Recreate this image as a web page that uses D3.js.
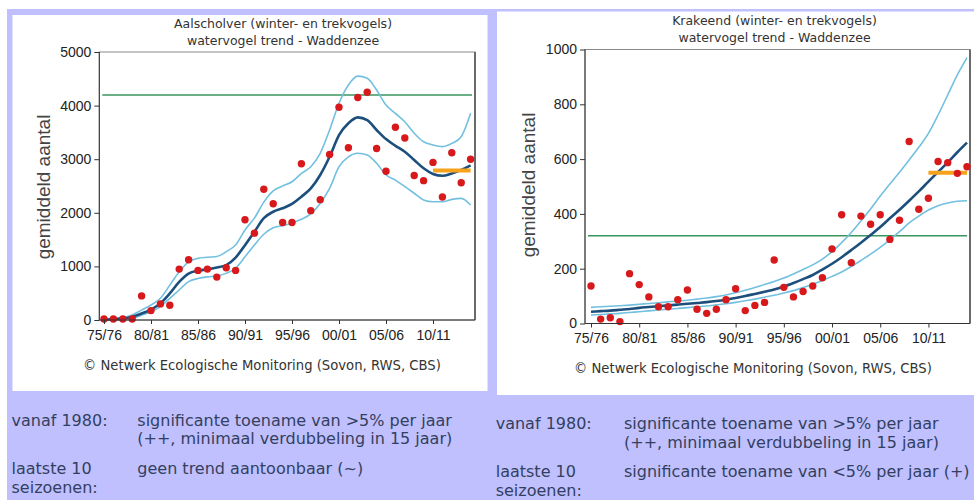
<!DOCTYPE html>
<html><head><meta charset="utf-8">
<script src="https://cdn.jsdelivr.net/npm/d3@7/dist/d3.min.js"></script>
<style>
html,body{margin:0;padding:0;background:#fff;}
svg{display:block;}
</style></head><body>
<svg id="c" width="974" height="500"></svg>
<script>
// ---------- DATA ----------
const seasons = ["75/76","76/77","77/78","78/79","79/80","80/81","81/82","82/83","83/84","84/85",
  "85/86","86/87","87/88","88/89","89/90","90/91","91/92","92/93","93/94","94/95",
  "95/96","96/97","97/98","98/99","99/00","00/01","01/02","02/03","03/04","04/05",
  "05/06","06/07","07/08","08/09","09/10","10/11","11/12","12/13","13/14","14/15"];
const xTickLabels = ["75/76","80/81","85/86","90/91","95/96","00/01","05/06","10/11"];
const lastSeasons = ["10/11","11/12","12/13","13/14","14/15"];

// Aalscholver
const aalTitle = ["Aalscholver (winter- en trekvogels)", "watervogel trend - Waddenzee"];
const aalYTicks = [0, 1000, 2000, 3000, 4000, 5000];
const aalCounts = [20,20,20,20,450,175,300,275,950,1125,925,950,800,975,925,1870,1620,2440,2170,1820,
  1820,2915,2040,2245,3090,3970,3215,4150,4250,3200,2775,3595,3395,2695,2600,2940,2295,3120,2560,3000];
const aalTrend = [10,15,25,60,120,195,310,495,710,865,920,945,980,1025,1165,1395,1645,1900,2020,2085,
  2165,2300,2455,2705,3045,3450,3670,3780,3730,3545,3375,3250,3140,2985,2830,2725,2690,2735,2800,2885];
const aalUpper = [20,30,45,95,185,280,405,650,900,1085,1150,1170,1185,1275,1400,1680,1900,2200,2410,2500,
  2580,2735,2860,3110,3545,4045,4385,4550,4510,4290,4010,3855,3700,3485,3325,3265,3235,3295,3420,3855];
const aalLower = [0,5,10,30,90,155,250,405,560,715,775,805,820,870,965,1180,1400,1600,1720,1760,
  1810,1880,1980,2175,2455,2860,3045,3110,3080,2925,2705,2610,2490,2365,2240,2205,2205,2250,2270,2145];
const aalReference = 4200;
const aalLastAvg = [2790,2790,2790,2790,2790];
const aalText = [["vanaf 1980:", "significante toename van >5% per jaar", "(++, minimaal verdubbeling in 15 jaar)"],
                 ["laatste 10", "geen trend aantoonbaar (~)"], ["seizoenen:"]];

// Krakeend
const kraTitle = ["Krakeend (winter- en trekvogels)", "watervogel trend - Waddenzee"];
const kraYTicks = [0, 200, 400, 600, 800, 1000];
const kraCounts = [137,16,21,7,182,142,97,61,61,87,122,52,37,52,87,127,47,66,77,232,
  132,97,117,137,167,272,397,222,392,362,397,307,377,664,417,457,591,587,548,572];
const kraTrend = [43,45,47,50,53,57,60,63,66,69,72,75,78,82,87,93,100,108,116,124,
  135,148,162,177,197,218,242,268,295,323,352,384,415,448,482,518,553,588,625,660];
const kraUpper = [59,61,63,65,67,70,73,76,79,82,85,89,93,98,104,112,121,131,142,153,
  166,181,197,214,235,262,295,332,374,418,465,509,552,597,643,694,761,834,907,970];
const kraLower = [31,33,35,37,40,43,46,49,52,55,58,61,64,68,72,77,83,89,96,103,
  111,120,131,143,157,172,188,208,230,253,278,305,335,367,392,414,430,440,446,448];
const kraReference = 320;
const kraLastAvg = [550,550,550,550,550];
const kraText = [["vanaf 1980:", "significante toename van >5% per jaar", "(++, minimaal verdubbeling in 15 jaar)"],
                 ["laatste 10", "significante toename van <5% per jaar (+)"], ["seizoenen:"]];

const copyright = "\u00A9 Netwerk Ecologische Monitoring (Sovon, RWS, CBS)";
const yTitle = "gemiddeld aantal";

// ---------- LAYOUT / STYLE ----------
const C = {
  lav: "#c0c0ff", dot: "#d7191c", trend: "#1c4f7c", band: "#72c0e0",
  ref: "#3a955e", avg: "#f7a21b", txt: "#333", bottomTxt: "#333f5e"
};
const svg = d3.select("#c");
svg.append("rect").attr("x", 7).attr("y", 9).attr("width", 967).attr("height", 491).attr("fill", C.lav);

function drawChart(cfg, d) {
  svg.append("rect").attr("x", cfg.panel[0]).attr("y", cfg.panel[1])
    .attr("width", cfg.panel[2]).attr("height", cfg.panel[3]).attr("fill", "#fff");

  const x = d3.scalePoint().domain(seasons).range([cfg.xFirst, cfg.xLast]);
  const y = d3.scaleLinear().domain([0, d.yTicks[d.yTicks.length - 1]]).range([cfg.y1, cfg.y0]);

  const g = svg.append("g");
  // frame
  g.append("rect").attr("x", cfg.x0).attr("y", cfg.y0).attr("width", cfg.x1 - cfg.x0)
    .attr("height", cfg.y1 - cfg.y0).attr("fill", "none").attr("stroke", "#8a8a8a").attr("stroke-width", 1);
  g.append("line").attr("x1", cfg.x1).attr("x2", cfg.x1).attr("y1", cfg.y0).attr("y2", cfg.y1)
    .attr("stroke", "#6a6a6a").attr("stroke-width", 2);

  // titles
  d.title.forEach((t, i) => {
    g.append("text").attr("x", cfg.titleX).attr("y", cfg.titleY[i]).attr("text-anchor", "middle")
      .attr("font-family", "DejaVu Sans").attr("font-size", 12.5).attr("fill", C.txt).text(t);
  });

  // reference line
  g.append("line").attr("x1", cfg.x0 + 3).attr("x2", cfg.x1 - 3)
    .attr("y1", y(d.reference)).attr("y2", y(d.reference))
    .attr("stroke", C.ref).attr("stroke-width", 1.5);

  const line = d3.line().x((v, i) => x(seasons[i])).y(v => y(v)).curve(d3.curveMonotoneX);
  [d.upper, d.lower].forEach(arr => {
    g.append("path").attr("d", line(arr)).attr("fill", "none").attr("stroke", C.band).attr("stroke-width", 1.6);
  });
  g.append("path").attr("d", line(d.trend)).attr("fill", "none").attr("stroke", C.trend).attr("stroke-width", 2.6);

  // last seasons average
  const avgLine = d3.line().x((v, i) => x(lastSeasons[i])).y(v => y(v));
  g.append("path").attr("d", avgLine(d.lastAvg)).attr("fill", "none").attr("stroke", C.avg).attr("stroke-width", 4);

  // dots
  g.selectAll(null).data(d.counts).join("circle")
    .attr("cx", (v, i) => x(seasons[i])).attr("cy", v => y(v)).attr("r", 3.7).attr("fill", C.dot);

  // axes
  const ya = g.append("g").attr("transform", `translate(${cfg.x0},0)`)
    .call(d3.axisLeft(y).tickValues(d.yTicks).tickFormat(d3.format("d")).tickSize(5).tickPadding(3).tickSizeOuter(0));
  const xa = g.append("g").attr("transform", `translate(0,${cfg.y1})`)
    .call(d3.axisBottom(x).tickValues(xTickLabels).tickSize(4).tickPadding(cfg.xPad).tickSizeOuter(0));
  xa.select(".domain").attr("d", `M${cfg.x0},0H${cfg.x1}`);
  ya.select(".domain").attr("d", `M0,${cfg.y0}V${cfg.y1}`);
  [ya, xa].forEach(a => {
    a.selectAll("text").attr("font-family", "Liberation Sans, Arial").attr("font-size", 14).attr("fill", "#222");
    a.selectAll("line,.domain").attr("stroke", "#333");
    a.attr("font-size", null).attr("font-family", null);
  });

  // y title
  g.append("text").attr("transform", `translate(${cfg.yTitle[0]},${cfg.yTitle[1]}) rotate(-90)`)
    .attr("text-anchor", "middle").attr("font-family", "Liberation Sans, Arial").attr("font-size", 19)
    .attr("fill", "#444").text(yTitle);

  // copyright
  g.append("text").attr("x", cfg.copyX).attr("y", cfg.copyY).attr("text-anchor", "middle")
    .attr("font-family", "DejaVu Sans").attr("font-size", 13.2).attr("fill", C.txt).text(copyright);

  // bottom texts
  const bt = svg.append("g").attr("font-family", "DejaVu Sans").attr("font-size", 16).attr("fill", C.bottomTxt);
  bt.append("text").attr("x", cfg.textX[0]).attr("y", cfg.textY[0]).text(d.text[0][0]);
  bt.append("text").attr("x", cfg.textX[1]).attr("y", cfg.textY[0]).text(d.text[0][1]);
  bt.append("text").attr("x", cfg.textX[1]).attr("y", cfg.textY[1]).text(d.text[0][2]);
  bt.append("text").attr("x", cfg.textX[0]).attr("y", cfg.textY[2]).text(d.text[1][0]);
  bt.append("text").attr("x", cfg.textX[1]).attr("y", cfg.textY[2]).text(d.text[1][1]);
  bt.append("text").attr("x", cfg.textX[0]).attr("y", cfg.textY[3]).text(d.text[2][0]);
}

drawChart({
  panel: [12.5, 15, 475, 376], x0: 99.3, x1: 475, y0: 52, y1: 320, xFirst: 104, xLast: 470.6,
  titleX: 283, titleY: [28, 45], copyX: 262, copyY: 370, yTitle: [50, 187], xPad: 6,
  textX: [11.5, 137.3], textY: [425.7, 444, 474.3, 493.3]
}, { title: aalTitle, yTicks: aalYTicks, counts: aalCounts, trend: aalTrend, upper: aalUpper, lower: aalLower,
     reference: aalReference, lastAvg: aalLastAvg, text: aalText });

drawChart({
  panel: [497, 11.5, 477, 383.5], x0: 585, x1: 970, y0: 49.5, y1: 323.5, xFirst: 591, xLast: 967,
  titleX: 774.5, titleY: [25, 41.7], copyX: 753, copyY: 373.3, yTitle: [535, 185], xPad: 5.9,
  textX: [495.7, 624], textY: [429.3, 448.3, 477.3, 496]
}, { title: kraTitle, yTicks: kraYTicks, counts: kraCounts, trend: kraTrend, upper: kraUpper, lower: kraLower,
     reference: kraReference, lastAvg: kraLastAvg, text: kraText });
</script>
</body></html>
